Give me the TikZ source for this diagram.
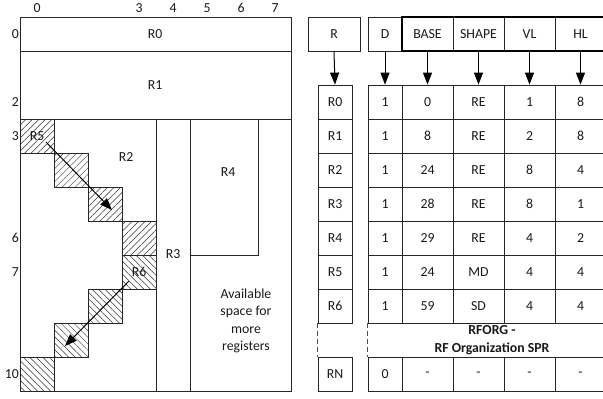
\documentclass[tikz,border=0pt]{standalone}
\usepackage{fontspec}
\setmainfont{Carlito}
\usetikzlibrary{arrows.meta,patterns.meta}
\begin{document}
\begin{tikzpicture}[x=1pt,y=-1pt,
  every node/.style={font=\fontsize{13.8}{15}\selectfont, text=black!90},
  grid/.style={draw=black!85, line width=0.8pt},
  cell/.style={draw=black!85, line width=0.8pt, minimum height=34pt, inner sep=0pt, anchor=center},
  lab/.style={inner sep=0pt},
  hatchne/.style={pattern={Lines[angle=45,distance=4.6pt,line width=0.5pt]}, pattern color=black!80},
  hatchnw/.style={pattern={Lines[angle=-45,distance=4.6pt,line width=0.5pt]}, pattern color=black!80},
  arr/.style={draw=black, line width=1pt, -{Triangle[length=12pt,width=9pt]}},
  dashln/.style={draw=black!70, line width=0.8pt, dash pattern=on 5pt off 3pt}]
\useasboundingbox (0,0) rectangle (603,399);
\clip (0,0) rectangle (603,399);

% ---- left register file ----
% hatched cells R5
\foreach \c/\r in {0/3,1/4,2/5,3/6}
  \filldraw[hatchne, draw=black!85, line width=0.8pt] ({20+34*\c},{17+34*\r}) rectangle ++(34,34);
% hatched cells R6
\foreach \c/\r in {3/7,2/8,1/9,0/10}
  \filldraw[hatchnw, draw=black!85, line width=0.8pt] ({20+34*\c},{17+34*\r}) rectangle ++(34,34);

\draw[grid] (20,17) rectangle (291,391);
\draw[grid] (20,51) -- (291,51);
\draw[grid] (20,119) -- (291,119);
\draw[grid] (156,119) -- (156,391);
\draw[grid] (190,119) -- (190,391);
\draw[grid] (258,119) -- (258,255) -- (190,255);

% labels in the grid
\node[lab] (lR0) at (155,34) {R0};
\node[lab] (lR1) at (155,85) {R1};
\node[lab] (lR2) at (126,157) {R2};
\node[lab] (lR3) at (173,254) {R3};
\node[lab] (lR4) at (228,172) {R4};
\node[lab] (lR5) at (37,136) {R5};
\node[lab] (lR6) at (139,272) {R6};
\node[lab, align=center, font=\fontsize{13.8}{17.4}\selectfont] (avail) at (246,321) {Available\\space for\\more\\registers};

% diagonal arrows
\coordinate (a5s) at (46,142);
\coordinate (a5e) at (112,210);
\coordinate (a6s) at (129,281);
\coordinate (a6e) at (65,346);
\draw[arr] (a5s) -- (a5e);
\draw[arr] (a6s) -- (a6e);

% axis labels
\foreach \c/\t in {0/0,3/3,4/4,5/5,6/6,7/7}
  \node[lab] (col\c) at ({37+34*\c},8) {\t};
\foreach \r/\t in {0/0,2/2,3/3,6/6,7/7,10/10}
  \node[lab, anchor=east] (row\r) at (19,{34+34*\r}) {\t};

% ---- right side: register list ----
\node[cell, minimum width=52pt] (hR) at (334,34) {R};
\foreach \i/\t [count=\k from 0] in {0/R0,1/R1,2/R2,3/R3,4/R4,5/R5,6/R6}
  \node[cell, minimum width=34pt] (r\i) at (335,{102+34*\k}) {\t};
\node[cell, minimum width=34pt] (rN) at (335,374) {RN};
\draw[arr] (hR.south) -- (r0.north);
\draw[dashln] (r6.south west) -- (rN.north west);

% ---- RFORG table ----
\node[cell, minimum width=34pt] (hD) at (385,34) {D};
\node[cell, minimum width=51pt] (hBASE) at (427.5,34) {BASE};
\node[cell, minimum width=51pt] (hSHAPE) at (478.5,34) {SHAPE};
\node[cell, minimum width=51pt] (hVL) at (529.5,34) {VL};
\node[cell, minimum width=51pt] (hHL) at (580.5,34) {HL};
\draw[black, line width=2pt] (hBASE.south west) rectangle (hHL.north east);

\foreach \k/\d/\b/\s/\v/\h in {0/1/0/RE/1/8, 1/1/8/RE/2/8, 2/1/24/RE/8/4, 3/1/28/RE/8/1,
                               4/1/29/RE/4/2, 5/1/24/MD/4/4, 6/1/59/SD/4/4, 8/0/-/-/-/-}{
  \node[cell, minimum width=34pt] (d\k) at (385,{102+34*\k}) {\d};
  \node[cell, minimum width=51pt] (b\k) at (427.5,{102+34*\k}) {\b};
  \node[cell, minimum width=51pt] (s\k) at (478.5,{102+34*\k}) {\s};
  \node[cell, minimum width=51pt] (v\k) at (529.5,{102+34*\k}) {\v};
  \node[cell, minimum width=51pt] (h\k) at (580.5,{102+34*\k}) {\h};
}
\draw[arr] (hD.south) -- (d0.north);
\draw[arr] (hBASE.south) -- (b0.north);
\draw[arr] (hSHAPE.south) -- (s0.north);
\draw[arr] (hVL.south) -- (v0.north);
\draw[arr] (hHL.south) -- (h0.north);
\draw[dashln] (d6.south west) -- (d8.north west);

\node[lab, align=center, font=\bfseries\fontsize{13.8}{18}\selectfont] (rforg) at (492,340) {RFORG -\\RF Organization SPR};
\end{tikzpicture}
\end{document}
